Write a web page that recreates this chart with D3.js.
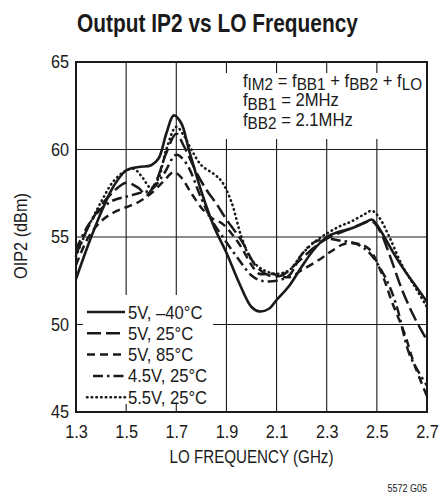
<!DOCTYPE html>
<html>
<head>
<meta charset="utf-8">
<script src="https://cdn.jsdelivr.net/npm/d3@7"></script>
<style>
  html, body { margin: 0; padding: 0; background: #ffffff; }
  svg text { font-family: 'Liberation Sans', Arial, sans-serif; fill: #1a1a1a; }
</style>
</head>
<body>
<div id="chart"></div>
<script>
// Output IP2 vs LO frequency, five supply / temperature conditions

// Axis ticks
const freqTicks = [1.3, 1.5, 1.7, 1.9, 2.1, 2.3, 2.5, 2.7];
const oipTicks = [45, 50, 55, 60, 65];

// Legend labels, in the same order as the series below
const conditions = ['5V, –40°C', '5V, 25°C', '5V, 85°C', '4.5V, 25°C', '5.5V, 25°C'];

// Curves: [LO frequency (GHz), OIP2 (dBm)]
const oip5vCold = [[1.3,52.6],[1.35,54.6],[1.4,56.4],[1.45,57.9],[1.5,58.8],[1.55,59.0],[1.6,59.1],[1.63,59.5],[1.66,60.9],[1.69,61.95],[1.72,61.5],[1.75,60.0],[1.8,57.6],[1.85,55.6],[1.9,54.1],[1.95,52.4],[2.0,51.0],[2.03,50.75],[2.07,50.9],[2.1,51.4],[2.15,52.2],[2.2,53.3],[2.25,54.3],[2.3,55.0],[2.35,55.3],[2.4,55.5],[2.45,55.8],[2.48,56.0],[2.5,55.7],[2.53,55.0],[2.57,54.0],[2.61,53.1],[2.65,52.3],[2.7,51.3]];
const oip5vRoom = [[1.3,54.0],[1.35,55.6],[1.4,56.8],[1.45,57.6],[1.5,58.1],[1.55,57.8],[1.58,57.4],[1.62,58.2],[1.66,59.8],[1.7,60.9],[1.73,60.2],[1.78,58.7],[1.82,57.7],[1.86,56.9],[1.9,56.0],[1.96,54.8],[2.02,53.3],[2.07,52.8],[2.12,52.8],[2.18,53.5],[2.25,54.4],[2.3,54.9],[2.4,55.5],[2.48,55.9],[2.51,55.4],[2.55,54.0],[2.6,52.0],[2.65,50.4],[2.7,49.1]];
const oip5vHot = [[1.3,53.4],[1.35,55.0],[1.4,55.9],[1.45,56.4],[1.5,56.7],[1.55,57.0],[1.6,57.5],[1.65,58.2],[1.69,58.7],[1.72,58.4],[1.76,57.5],[1.81,56.5],[1.85,56.0],[1.88,55.8],[1.92,55.2],[1.96,54.4],[2.0,53.4],[2.03,52.9],[2.08,52.9],[2.15,52.7],[2.2,53.1],[2.27,53.7],[2.32,54.2],[2.37,54.6],[2.43,54.6],[2.47,54.3],[2.52,52.9],[2.56,51.3],[2.61,49.5],[2.65,47.7],[2.7,45.9]];
const oip45v = [[1.3,54.3],[1.35,55.7],[1.4,56.6],[1.45,57.1],[1.5,57.3],[1.55,57.5],[1.6,57.7],[1.65,58.6],[1.7,59.7],[1.74,59.2],[1.8,57.2],[1.84,56.0],[1.9,54.7],[1.95,53.7],[2.0,52.8],[2.04,52.5],[2.1,52.5],[2.15,52.8],[2.2,54.0],[2.25,54.7],[2.3,54.9],[2.35,54.8],[2.42,54.6],[2.47,54.1],[2.51,53.3],[2.55,52.2],[2.58,51.0],[2.63,48.3],[2.67,47.2],[2.7,46.5]];
const oip55v = [[1.3,53.9],[1.35,55.6],[1.4,57.0],[1.45,58.2],[1.5,58.8],[1.53,58.9],[1.56,58.5],[1.6,57.8],[1.63,58.4],[1.66,60.0],[1.7,61.3],[1.73,60.8],[1.76,60.0],[1.8,59.1],[1.85,58.6],[1.88,58.2],[1.92,57.0],[1.96,55.0],[2.0,53.7],[2.05,53.1],[2.1,52.9],[2.15,53.1],[2.2,54.0],[2.25,54.7],[2.3,55.2],[2.35,55.6],[2.4,55.9],[2.45,56.3],[2.48,56.5],[2.51,56.1],[2.55,55.0],[2.6,53.4],[2.65,52.2],[2.7,51.0]];

(function() {
  const margin = { top: 62, right: 16, bottom: 86, left: 76 };
  const width = 443 - margin.left - margin.right;
  const height = 498 - margin.top - margin.bottom;

  const ink = '#1a1a1a';
  const fontSize = '18.5px';

  // No narrow font is installed, so squeeze the regular one sideways
  function condense(selection, factor) {
    selection.each(function() {
      const t = d3.select(this);
      const ax = +t.attr('x') || 0;
      const base = t.attr('transform') || '';
      t.attr('transform', `${base} translate(${ax},0) scale(${factor},1) translate(${-ax},0)`);
    });
  }

  // Line style for each condition
  const dashStyles = [
    { dash: null, width: 2.6, cap: 'butt' },
    { dash: '14,5', width: 2.5, cap: 'butt' },
    { dash: '8,5', width: 2.5, cap: 'butt' },
    { dash: '10,4,2.5,4', width: 2.5, cap: 'butt' },
    { dash: '0.5,4.2', width: 2.6, cap: 'round' }
  ];

  const series = [oip5vCold, oip5vRoom, oip5vHot, oip45v, oip55v].map((values, i) => ({
    name: conditions[i],
    values: values,
    style: dashStyles[i]
  }));

  const svg = d3.select('#chart')
    .append('svg')
    .attr('width', 443)
    .attr('height', 498);

  const g = svg.append('g')
    .attr('transform', `translate(${margin.left}, ${margin.top})`);

  const x = d3.scaleLinear().domain([1.3, 2.7]).range([0, width]);
  const y = d3.scaleLinear().domain([45, 65]).range([height, 0]);

  // Grid lines
  g.append('g')
    .selectAll('line')
    .data(freqTicks.slice(1, -1))
    .enter()
    .append('line')
    .attr('x1', d => x(d)).attr('x2', d => x(d))
    .attr('y1', 0).attr('y2', height)
    .attr('stroke', ink)
    .attr('stroke-width', 1.1);

  g.append('g')
    .selectAll('line')
    .data(oipTicks.slice(1, -1))
    .enter()
    .append('line')
    .attr('x1', 0).attr('x2', width)
    .attr('y1', d => y(d)).attr('y2', d => y(d))
    .attr('stroke', ink)
    .attr('stroke-width', 1.1);

  // White boxes behind the note and the legend
  g.append('rect')
    .attr('x', x(1.87) + 2).attr('y', 11)
    .attr('width', width - x(1.87) - 3).attr('height', 66)
    .attr('fill', '#ffffff');

  g.append('rect')
    .attr('x', 7).attr('y', 233)
    .attr('width', 130).attr('height', 109)
    .attr('fill', '#ffffff');

  // Curves
  const line = d3.line()
    .x(d => x(d[0]))
    .y(d => y(d[1]))
    .curve(d3.curveCatmullRom.alpha(0.5));

  g.selectAll('.curve')
    .data(series)
    .enter()
    .append('path')
    .attr('class', 'curve')
    .attr('d', d => line(d.values))
    .attr('fill', 'none')
    .attr('stroke', ink)
    .attr('stroke-width', d => d.style.width)
    .attr('stroke-linecap', d => d.style.cap)
    .attr('stroke-linejoin', 'round')
    .attr('stroke-dasharray', d => d.style.dash);

  // Frame
  g.append('rect')
    .attr('x', 0).attr('y', 0)
    .attr('width', width).attr('height', height)
    .attr('fill', 'none')
    .attr('stroke', ink)
    .attr('stroke-width', 2);

  // Axes (labels only, frame is drawn above)
  const xAxis = g.append('g')
    .attr('transform', `translate(0, ${height})`)
    .call(d3.axisBottom(x).tickValues(freqTicks).tickFormat(d3.format('.1f')).tickSize(0).tickPadding(13));
  xAxis.select('.domain').remove();
  xAxis.selectAll('text')
    .style('font-size', fontSize)
    .attr('fill', ink)
    .call(condense, 0.88);

  const yAxis = g.append('g')
    .call(d3.axisLeft(y).tickValues(oipTicks).tickFormat(d3.format('d')).tickSize(0).tickPadding(7));
  yAxis.select('.domain').remove();
  yAxis.selectAll('text')
    .style('font-size', fontSize)
    .attr('fill', ink)
    .call(condense, 0.88);

  // Axis titles
  g.append('text')
    .attr('x', x(2.0))
    .attr('y', height + 51)
    .attr('text-anchor', 'middle')
    .style('font-size', fontSize)
    .text('LO FREQUENCY (GHz)')
    .call(condense, 0.82);

  g.append('text')
    .attr('transform', `translate(${-49}, ${height / 2 - 1}) rotate(-90)`)
    .attr('text-anchor', 'middle')
    .style('font-size', fontSize)
    .text('OIP2 (dBm)')
    .call(condense, 0.88);

  // Title
  svg.append('text')
    .attr('x', 77)
    .attr('y', 32)
    .style('font-size', '25.5px')
    .style('font-weight', 'bold')
    .text('Output IP2 vs LO Frequency')
    .call(condense, 0.82);

  // Frequency note in the top right
  const noteLines = [
    [['f', 0], ['IM2', 1], [' = f', 0], ['BB1', 1], [' + f', 0], ['BB2', 1], [' + f', 0], ['LO', 1]],
    [['f', 0], ['BB1', 1], [' = 2MHz', 0]],
    [['f', 0], ['BB2', 1], [' = 2.1MHz', 0]]
  ];

  noteLines.forEach((parts, i) => {
    const t = g.append('text')
      .attr('x', 167)
      .attr('y', 25 + i * 19.3)
      .style('font-size', fontSize);
    let shifted = 0;
    parts.forEach(p => {
      const dy = p[1] ? 3.5 - shifted : -shifted;
      shifted = p[1] ? 3.5 : 0;
      t.append('tspan')
        .attr('dy', dy)
        .style('font-size', p[1] ? '17px' : fontSize)
        .text(p[0]);
    });
    t.call(condense, 0.9);
  });

  // Legend
  const legend = g.append('g')
    .attr('transform', 'translate(11, 250)');

  const items = legend.selectAll('.legend-item')
    .data(series)
    .enter()
    .append('g')
    .attr('class', 'legend-item')
    .attr('transform', (d, i) => `translate(0, ${i * 21.3})`);

  items.append('line')
    .attr('x1', (d, i) => i === 3 ? 6 : 0)
    .attr('x2', 38)
    .attr('y1', 0).attr('y2', 0)
    .attr('stroke', ink)
    .attr('stroke-width', d => d.style.width)
    .attr('stroke-linecap', d => d.style.cap)
    .attr('stroke-dasharray', d => d.style.dash);

  items.append('text')
    .attr('x', 41)
    .attr('y', 6.5)
    .style('font-size', fontSize)
    .text(d => d.name)
    .call(condense, 0.9);

  // Figure code
  svg.append('text')
    .attr('x', 427)
    .attr('y', 492)
    .attr('text-anchor', 'end')
    .style('font-size', '11px')
    .text('5572 G05')
    .call(condense, 0.82);
})();
</script>
</body>
</html>
